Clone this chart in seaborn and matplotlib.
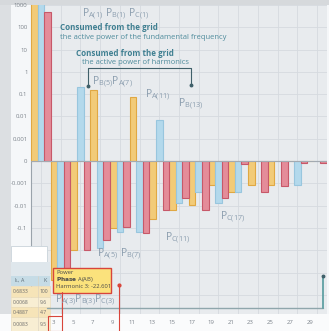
import numpy as np
import pandas as pd
import matplotlib
matplotlib.use("Agg")
import matplotlib.pyplot as plt
import seaborn as sns
from matplotlib.patches import Rectangle
from matplotlib.ticker import NullLocator

# odd harmonics, active power per phase (W)
harmonics = list(range(1, 30, 2))
phase_a = [1500, -22.6, -1.0, 0.15, -0.1, 0.074, -0.038, -0.016, -0.0093, -0.0012,
           -0.0025, -0.0012, -0.0012, 0.0, 0.0]
phase_b = [1400, -20.0, 0.2, -0.8, -0.15, -0.15, 0.0069, -0.0076, -0.0025, -0.0076,
           -0.0025, 0.0, 0.0, -0.0012, 0.0]
phase_c = [480, -25.0, -1.0, -0.35, -0.09, -0.17, -0.016, -0.0046, -0.016, -0.0046,
           -0.00012, -0.0025, -0.0013, -0.0001, -0.0001]
phases = ['A', 'B', 'C']
fills = ['#f2cb78', '#b3d9ec', '#e48c99']
edges = ['#e0a843', '#98c6de', '#c75869']

y_ticks = [1000, 100, 10, 1, 0.1, 0.01, 0.001, 0, -0.001, -0.01, -0.1, -1, -10, -100]
y_labels = ['1000', '100', '10', '1', '0.1', '0.01', '0.001', '0',
            '-0.001', '-0.01', '-0.1', '-1', '-10', '-100']
x_labels = [str(h) for h in harmonics[1:]]

table_rows = [('0.6833', '100'), ('0.0068', '9.6'), ('0.4887', '4.7'), ('0.0083', '9.5')]

df = pd.DataFrame({'Harmonic': harmonics * 3,
                   'Phase': [p for p in phases for _ in harmonics],
                   'P': phase_a + phase_b + phase_c})

sns.set_style('white')
plt.rcParams['font.family'] = ['Open Sans', 'DejaVu Sans']

W, H = 329, 331
fig = plt.figure(figsize=(W / 100, H / 100), dpi=100, facecolor='#f5f7f9')

# frame pieces of the screenshot
fig.patches.append(Rectangle((0, 0), 11 / W, 1, transform=fig.transFigure, fc='#dcdfe2', ec='none', zorder=-2))
fig.patches.append(Rectangle((0, 1 - 5 / H), 1, 5 / H, transform=fig.transFigure, fc='#d6d9dc', ec='none', zorder=-2))
fig.patches.append(Rectangle((0, 0), 1, 17 / H, transform=fig.transFigure, fc='#fafbfc', ec='none', zorder=-2))

ax = fig.add_axes([31 / W, 1 - 314 / H, 296 / W, 309 / H])
ax.set_facecolor('#e8ebee')
sns.barplot(data=df, x='Harmonic', y='P', hue='Phase', hue_order=phases, palette=fills,
            width=1.0, saturation=1, errorbar=None, legend=False, ax=ax, zorder=3)
for cont, ec in zip(ax.containers, edges):
    for bar in cont:
        bar.set_edgecolor(ec)
        bar.set_linewidth(0.8)

ax.set_yscale('symlog', linthresh=1e-3, linscale=0.9)
ax.set_ylim(-724, 1000)
ax.set_xlim(-0.5, 14.5)
ax.set_yticks(y_ticks, labels=y_labels)
ax.yaxis.set_minor_locator(NullLocator())
ax.set_xticks(range(len(harmonics)), labels=[''] * len(harmonics))
ax.set_xticks([k - 0.37 for k in range(1, len(harmonics))], labels=x_labels, minor=True)
ax.tick_params(axis='y', length=0, pad=2.5, labelsize=4.3, labelcolor='#7c838b')
ax.tick_params(axis='x', which='both', length=0, pad=4.5, labelsize=4.3, labelcolor='#7c838b')
ax.grid(True, which='major', color='#d5dadf', lw=0.6, zorder=0)
ax.set_axisbelow(True)
ax.axhline(0, color='#a3aab1', lw=0.8, zorder=4)
ax.set_xlabel('')
ax.set_ylabel('')
for s in ['top', 'right', 'bottom']:
    ax.spines[s].set_visible(False)
ax.spines['left'].set_color('#9aa3ab')
ax.spines['left'].set_linewidth(0.8)

# overlay in pixel coordinates for the annotations and UI pieces
ov = fig.add_axes([0, 0, 1, 1], zorder=10)
ov.set_xlim(0, W)
ov.set_ylim(H, 0)
ov.axis('off')
ov.patch.set_alpha(0)

lab = dict(color='#8c9eaf', fontsize=7.5, va='center', ha='left')
ov.text(82, 14, r'$\mathregular{P_{A(1)}\ P_{B(1)}\ P_{C(1)}}$', **lab)
ov.text(92, 82, r'$\mathregular{P_{B(5)}P_{A(7)}}$', **lab)
ov.text(145, 95, r'$\mathregular{P_{A(11)}}$', **lab)
ov.text(178, 104, r'$\mathregular{P_{B(13)}}$', **lab)
ov.text(97, 254, r'$\mathregular{P_{A(5)}\ P_{B(7)}}$', **lab)
ov.text(165, 238, r'$\mathregular{P_{C(11)}}$', **lab)
ov.text(220, 217, r'$\mathregular{P_{C(17)}}$', **lab)
ov.text(55, 300, r'$\mathregular{P_{A(3)}P_{B(3)}P_{C(3)}}$', **lab)

ov.text(60, 28, 'Consumed from the grid', color='#3f7f91', fontsize=5.8, fontweight='bold', va='center')
ov.text(60, 37.5, 'the active power of the fundamental frequency', color='#4f8c9c', fontsize=5.5, va='center')
ov.text(76, 54, 'Consumed from the grid', color='#3f7f91', fontsize=5.8, fontweight='bold', va='center')
ov.text(82, 63, 'the active power of harmonics', color='#4f8c9c', fontsize=5.5, va='center')

# brackets
ov.plot([88, 88, 191, 191], [86, 68, 68, 85], color='#40606a', lw=0.8)
ov.plot([88, 191], [86, 85], 'o', color='#40606a', ms=1.8)
ov.plot([47, 323], [308, 308], color='#8fa6ac', lw=1.0)
ov.plot([323, 323], [308, 276], color='#5fa0a3', lw=1.3)
ov.plot([323], [276], 'o', color='#40606a', ms=1.8)

# side table
ov.add_patch(Rectangle((11, 246), 36, 16, fc='white', ec='#c9d3da', lw=0.6))
ov.add_patch(Rectangle((11, 262), 39, 14, fc='#dfe7ec', ec='none'))
ov.add_patch(Rectangle((11, 276), 39, 10, fc='#c6dce6', ec='none'))
ov.text(14, 281, r'$\mathregular{I_L}$, A', color='#5a6a75', fontsize=3.8, va='center')
ov.text(43, 281, 'K', color='#5a6a75', fontsize=3.8, va='center')
row_bg = ['#f6e4b8', '#f8eed3', '#f6e4b8', '#f8eed3']
row_y = [286, 297, 307, 317]
row_h = [11, 10, 10, 14]
for (cur, k), bg, y0, h in zip(table_rows, row_bg, row_y, row_h):
    ov.add_patch(Rectangle((11, y0), 39, h, fc=bg, ec='#e8d9b5', lw=0.4))
    ov.text(13, y0 + h / 2, cur, color='#6a6a6a', fontsize=3.6, va='center')
    ov.text(40, y0 + h / 2, k, color='#6a6a6a', fontsize=3.6, va='center')
ov.plot([38, 38], [276, 331], color='#d8d0c0', lw=0.4)

# tooltip
ov.add_patch(Rectangle((53, 268), 58, 25, fc='#fbe27c', ec='#d8453b', lw=1.0))
tip = dict(color='#4a4a4a', fontsize=4.2, va='center', ha='left')
ov.text(56, 273, 'Power', **tip)
ov.text(56, 280, r'$\mathbf{Phase}$ A(AB)', **tip)
ov.text(56, 287, 'Harmonic 3: -22.601', **tip)

# red markers
ov.add_patch(Rectangle((48, 316), 14, 15, fc='none', ec='#d8453b', lw=0.8))
ov.plot([62, 62], [292, 316], color='#d8453b', lw=0.8)
ov.plot([119, 119], [285, 331], color='#d8453b', lw=0.8)
ov.plot([119], [285], 'o', color='#d8453b', ms=2)

fig.savefig('out.png', dpi=100, facecolor=fig.get_facecolor())
